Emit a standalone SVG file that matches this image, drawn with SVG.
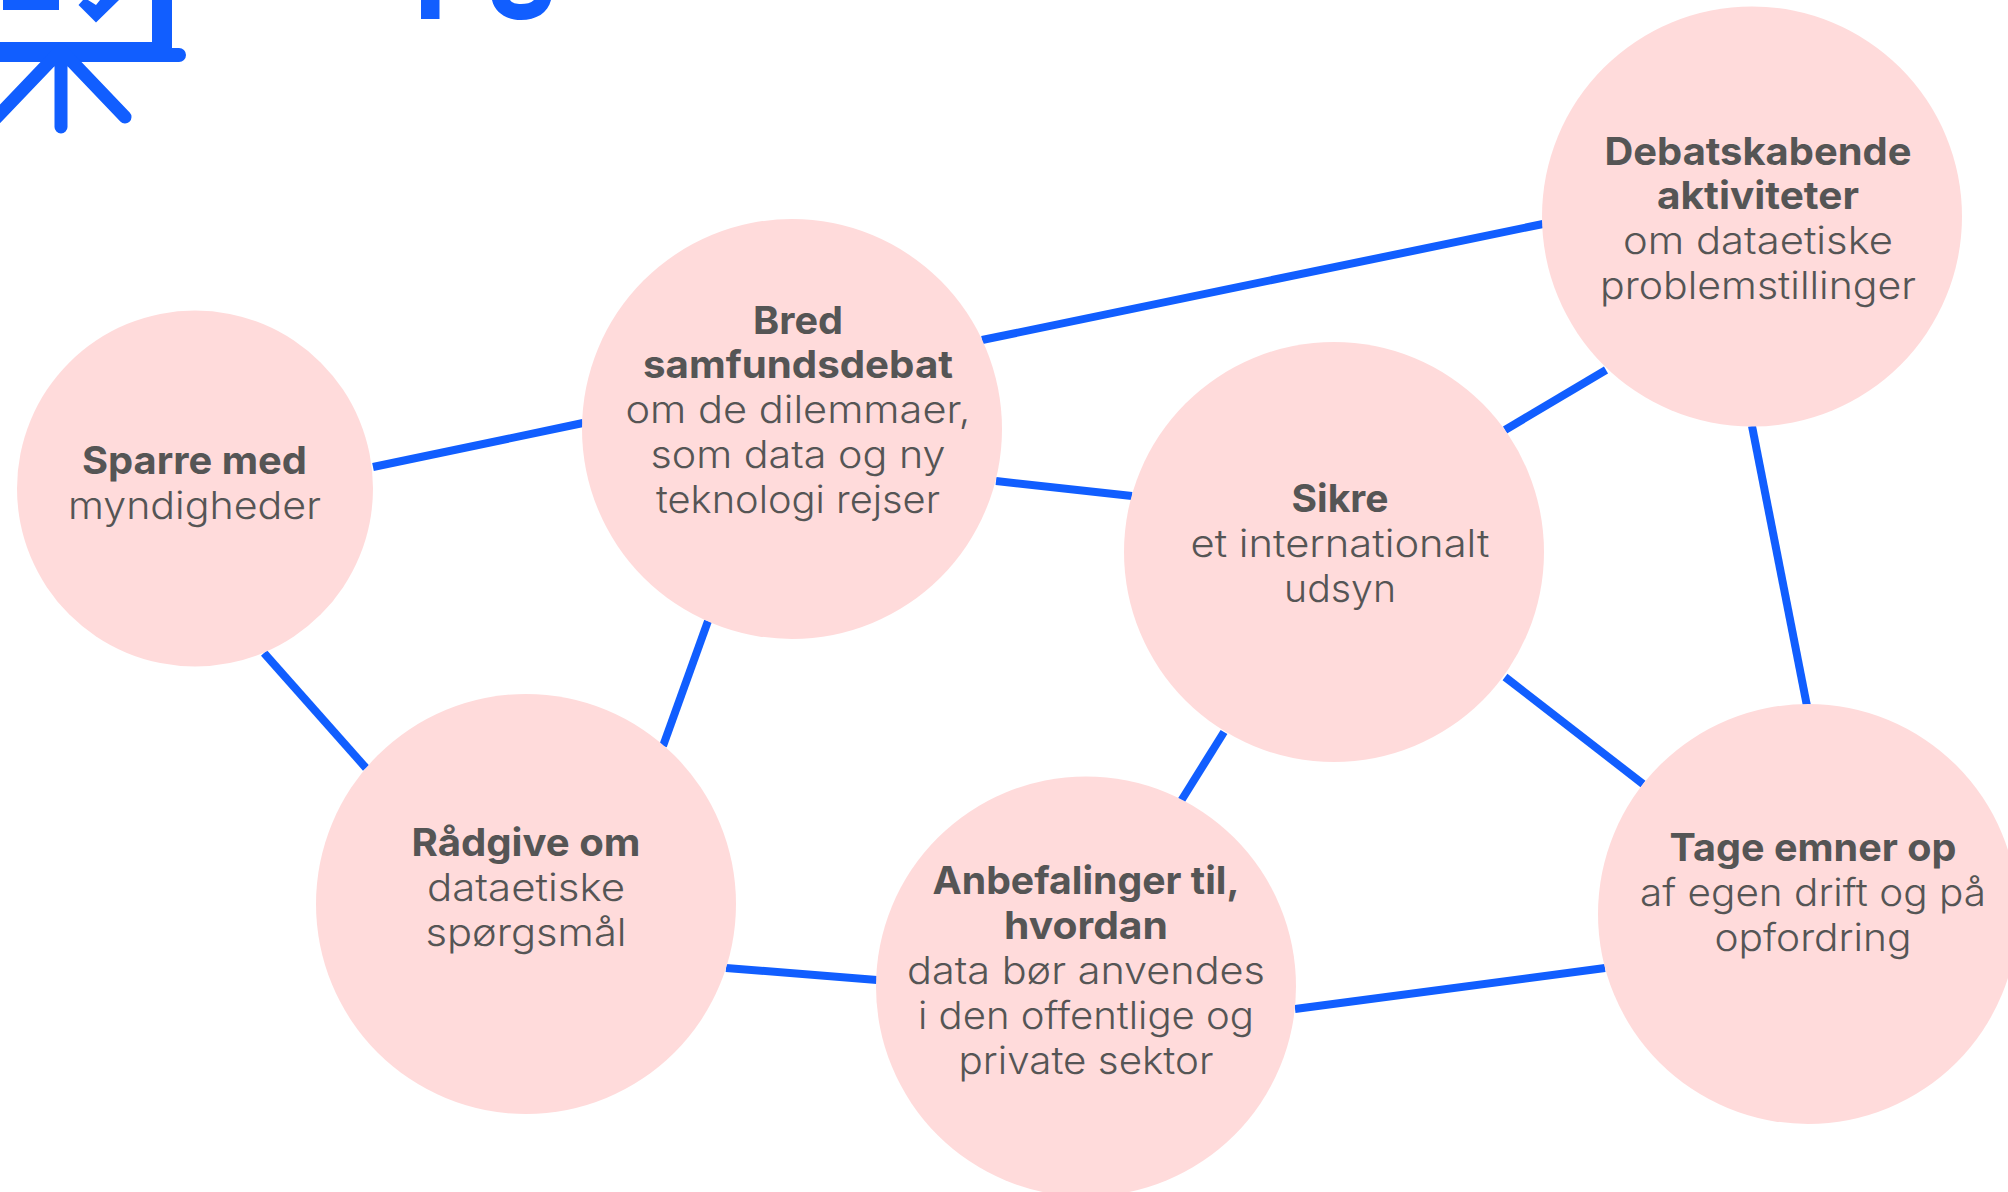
<svg xmlns="http://www.w3.org/2000/svg" width="2008" height="1192" viewBox="0 0 2008 1192">
<style>
.c{fill:#ffdbdb}
.l{stroke:#115eff;stroke-width:8;fill:none}
.i{fill:#115eff}
.k{stroke:#115eff;stroke-width:13;stroke-linecap:round;fill:none}
text{font-family:Inter,"Noto Sans","Liberation Sans",sans-serif;font-size:38px;fill:#555;text-anchor:middle}
.b{font-weight:700}
.r{font-weight:300}
</style>
<rect width="2008" height="1192" fill="#fff"/>
<g id="icon">
<rect class="i" x="3" y="0" width="56" height="10"/>
<path class="i" d="M78.500 5 L83 0 L88 0 L96 5 L100 0 L119 0 L96 22.500Z"/>
<path class="i" d="M152 0H172V48H179A7 7 0 0 1 179 62H0V42H152Z"/>
<path class="k" d="M61 55V127M61 50L125 117M61 50L-4 118"/>
<rect class="i" x="421" y="0" width="18.500" height="19"/>
<path class="i" d="M492 0C495 13 507 20 521 20C536 20 548 13 551 0H534C531 3 526 4 521 4C516 4 512 3 510 0Z"/>
</g>
<g id="connectors">
<path class="l" d="M373 467L583 423"/>
<path class="l" d="M982 340L1543 224"/>
<path class="l" d="M996 481L1132 496"/>
<path class="l" d="M1505 430L1606 370"/>
<path class="l" d="M1752 426L1807 706"/>
<path class="l" d="M1505 677L1643 784"/>
<path class="l" d="M1224 732L1181 801"/>
<path class="l" d="M708 621L663 746"/>
<path class="l" d="M264 653L366 768"/>
<path class="l" d="M726 968L877 980"/>
<path class="l" d="M1295 1009L1605 968"/>
</g>
<g id="n-sparre"><circle class="c" cx="195" cy="488.500" r="178"/>
<text class="b" x="194.500" y="474" textLength="225" lengthAdjust="spacingAndGlyphs">Sparre med</text>
<text class="r" x="194.500" y="518.500" textLength="253" lengthAdjust="spacingAndGlyphs">myndigheder</text></g>
<g id="n-bred"><circle class="c" cx="792" cy="429" r="210"/>
<text class="b" x="798" y="333.500" textLength="90" lengthAdjust="spacingAndGlyphs">Bred</text>
<text class="b" x="798" y="378" textLength="310" lengthAdjust="spacingAndGlyphs">samfundsdebat</text>
<text class="r" x="798" y="423" textLength="345" lengthAdjust="spacingAndGlyphs">om de dilemmaer,</text>
<text class="r" x="798" y="468" textLength="295" lengthAdjust="spacingAndGlyphs">som data og ny</text>
<text class="r" x="798" y="512.500" textLength="284" lengthAdjust="spacingAndGlyphs">teknologi rejser</text></g>
<g id="n-debat"><circle class="c" cx="1752" cy="216.500" r="210"/>
<text class="b" x="1758" y="164.500" textLength="307" lengthAdjust="spacingAndGlyphs">Debatskabende</text>
<text class="b" x="1758" y="209" textLength="202" lengthAdjust="spacingAndGlyphs">aktiviteter</text>
<text class="r" x="1758" y="254" textLength="270" lengthAdjust="spacingAndGlyphs">om dataetiske</text>
<text class="r" x="1758" y="298.500" textLength="316" lengthAdjust="spacingAndGlyphs">problemstillinger</text></g>
<g id="n-sikre"><circle class="c" cx="1334" cy="552" r="210"/>
<text class="b" x="1340" y="511.500" textLength="97" lengthAdjust="spacingAndGlyphs">Sikre</text>
<text class="r" x="1340" y="556.500" textLength="299" lengthAdjust="spacingAndGlyphs">et internationalt</text>
<text class="r" x="1340" y="601.500" textLength="112" lengthAdjust="spacingAndGlyphs">udsyn</text></g>
<g id="n-raadgive"><circle class="c" cx="526" cy="904" r="210"/>
<text class="b" x="526" y="856" textLength="229" lengthAdjust="spacingAndGlyphs">Rådgive om</text>
<text class="r" x="526" y="901" textLength="198" lengthAdjust="spacingAndGlyphs">dataetiske</text>
<text class="r" x="526" y="945.500" textLength="201" lengthAdjust="spacingAndGlyphs">spørgsmål</text></g>
<g id="n-anbefal"><circle class="c" cx="1086" cy="986.500" r="210"/>
<text class="b" x="1086" y="894" textLength="307" lengthAdjust="spacingAndGlyphs">Anbefalinger til,</text>
<text class="b" x="1086" y="939" textLength="164" lengthAdjust="spacingAndGlyphs">hvordan</text>
<text class="r" x="1086" y="984" textLength="358" lengthAdjust="spacingAndGlyphs">data bør anvendes</text>
<text class="r" x="1086" y="1029" textLength="336" lengthAdjust="spacingAndGlyphs">i den offentlige og</text>
<text class="r" x="1086" y="1074" textLength="255" lengthAdjust="spacingAndGlyphs">private sektor</text></g>
<g id="n-tage"><circle class="c" cx="1808" cy="914" r="210"/>
<text class="b" x="1813" y="861" textLength="287" lengthAdjust="spacingAndGlyphs">Tage emner op</text>
<text class="r" x="1813" y="906" textLength="346" lengthAdjust="spacingAndGlyphs">af egen drift og på</text>
<text class="r" x="1813" y="950.500" textLength="197" lengthAdjust="spacingAndGlyphs">opfordring</text></g>
</svg>
